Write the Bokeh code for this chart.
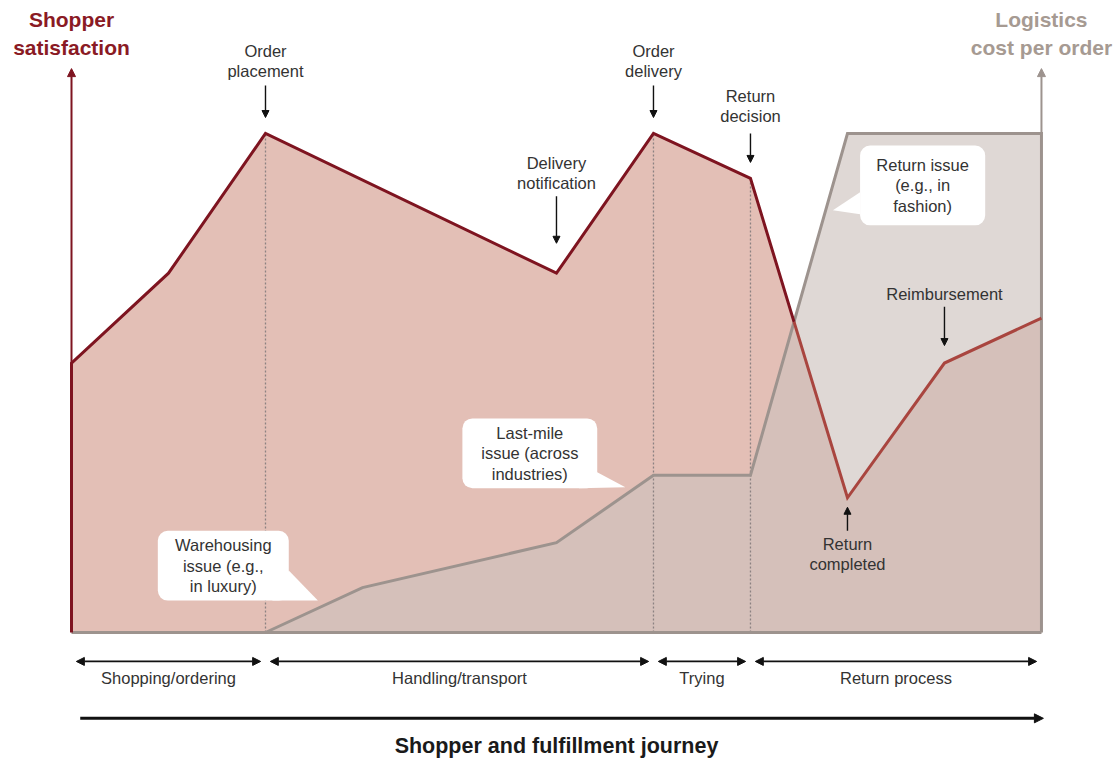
import numpy as np
from bokeh.plotting import figure
from bokeh.models import Range1d, Arrow, NormalHead, BoxAnnotation, ColumnDataSource
from bokeh.core.properties import value
from bokeh.embed import file_html
from bokeh.resources import INLINE

# Steps along the shopper and fulfillment journey (x) and relative levels (y, 0-100)
sat_x = [0, 1, 2, 5, 6, 7, 8, 9, 10]
sat_y = [54, 72, 100, 72, 100, 91, 27, 54, 63]

cost_x = [2, 3, 5, 6, 7, 8, 10]
cost_y = [0, 9, 18, 31.5, 31.5, 100, 100]

phase_names = ["Shopping/ordering", "Handling/transport", "Trying", "Return process"]
phase_start = [0, 2, 6, 7]
phase_end = [2, 6, 7, 10]

milestones = ["Order\nplacement", "Delivery\nnotification", "Order\ndelivery",
              "Return\ndecision", "Return\ncompleted", "Reimbursement"]
milestone_x = [2, 5, 6, 7, 8, 9]

callouts = ["Warehousing\nissue (e.g.,\nin luxury)",
            "Last-mile\nissue (across\nindustries)",
            "Return issue\n(e.g., in\nfashion)"]

FONT = "Liberation Sans"
DARK_RED = "#7E1420"
LIGHT_RED = "#A9453F"
PINK = "#E3BFB6"
GREY_LINE = "#9D938E"
GREY_FILL = "#CDC2BC"
TEXT = "#333333"
INK = "#111111"

p = figure(width=1114, height=758, output_backend="svg", toolbar_location=None,
           x_axis_type=None, y_axis_type=None, min_border=0,
           x_range=Range1d(-0.732, 10.753), y_range=Range1d(-25.25, 126.65))
p.grid.visible = False
p.outline_line_color = None
p.background_fill_color = "white"
p.border_fill_color = "white"

# Shopper satisfaction area
p.varea(x=sat_x, y1=0, y2=sat_y, fill_color=PINK)

# Logistics cost area, translucent so the overlap shows through
p.varea(x=cost_x, y1=0, y2=cost_y, fill_color=GREY_FILL, fill_alpha=0.63)

# Phase separators
for xv, top in [(2, 100), (6, 100), (7, 91)]:
    p.line([xv, xv], [0, top], line_color="#8C8282", line_width=1.3, line_dash="2 2")

# Baseline
p.line([0, 10], [0, 0], line_color=GREY_LINE, line_width=3)

# Logistics cost line, closing down the right edge
p.line(cost_x + [10], cost_y + [0], line_color=GREY_LINE, line_width=3, line_join="miter")

# Where satisfaction drops below the cost curve
xs_all = np.array(sorted(set(sat_x) | set(cost_x)), dtype=float)
diff = np.interp(xs_all, sat_x, sat_y) - np.interp(xs_all, cost_x, cost_y, left=0)
k = int(np.where((diff[:-1] > 0) & (diff[1:] <= 0))[0][-1])
t = diff[k] / (diff[k] - diff[k + 1])
x_cross = xs_all[k] + t * (xs_all[k + 1] - xs_all[k])
y_cross = float(np.interp(x_cross, sat_x, sat_y))

sx = np.array(sat_x, dtype=float)
sy = np.array(sat_y, dtype=float)
above = sx < x_cross
p.line([0] + list(sx[above]) + [x_cross], [0] + list(sy[above]) + [y_cross],
       line_color=DARK_RED, line_width=3, line_join="miter")
p.line([x_cross] + list(sx[~above]), [y_cross] + list(sy[~above]),
       line_color=LIGHT_RED, line_width=3, line_join="miter")

# Axis arrows
p.add_layout(Arrow(end=NormalHead(size=8, fill_color=DARK_RED, line_color=DARK_RED),
                   x_start=0, y_start=54, x_end=0, y_end=113,
                   line_color=DARK_RED, line_width=2))
p.add_layout(Arrow(end=NormalHead(size=8, fill_color=GREY_LINE, line_color=GREY_LINE),
                   x_start=10, y_start=100, x_end=10, y_end=113,
                   line_color=GREY_LINE, line_width=2))

# Axis titles
p.text(x=[0], y=[120], text=["Shopper\nsatisfaction"], text_font=value(FONT),
       text_font_style="bold", text_font_size="21px", text_color="#8A1A24",
       text_align="center", text_baseline="middle", text_line_height=1.2)
p.text(x=[10], y=[120], text=["Logistics\ncost per order"], text_font=value(FONT),
       text_font_style="bold", text_font_size="21px", text_color="#A69A92",
       text_align="center", text_baseline="middle", text_line_height=1.2)

# Milestone labels and pointer arrows
ms_text_y = [114.6, 92, 114.6, 105.5, 15.7, 67.9]
ms_arrow_from = [109.6, 87.4, 109.6, 100, 20.4, 65.3]
ms_arrow_to = [103.2, 78, 103.2, 94.2, 25.1, 57.5]
p.text(x=milestone_x, y=ms_text_y, text=milestones, text_font=value(FONT),
       text_font_size="16.5px", text_color=TEXT, text_align="center",
       text_baseline="middle", text_line_height=1.12)
ms_src = ColumnDataSource(dict(x=milestone_x, y0=ms_arrow_from, y1=ms_arrow_to))
p.add_layout(Arrow(end=NormalHead(size=7, fill_color=INK, line_color=INK),
                   source=ms_src, x_start="x", y_start="y0", x_end="x", y_end="y1",
                   line_color=INK, line_width=1.4))

# Speech-bubble callouts
box_l = [0.89, 4.03, 8.13]
box_r = [2.24, 5.42, 9.42]
box_b = [6.4, 28.9, 81.6]
box_t = [20.4, 42.9, 97.6]
tail_xs = [[2.24, 2.07, 2.54], [5.23, 5.42, 5.71], [8.13, 8.13, 7.85]]
tail_ys = [[12.4, 6.4, 6.4], [28.9, 32.1, 29.1], [88.2, 83.8, 84.6]]
p.patches(tail_xs, tail_ys, fill_color="white", line_color=None)
for l, r, b, tp in zip(box_l, box_r, box_b, box_t):
    p.add_layout(BoxAnnotation(left=l, right=r, bottom=b, top=tp, fill_color="white",
                               fill_alpha=1, line_color=None, border_radius=10))
p.text(x=[(l + r) / 2 for l, r in zip(box_l, box_r)],
       y=[(b + tp) / 2 for b, tp in zip(box_b, box_t)],
       text=callouts, text_font=value(FONT), text_font_size="16.5px", text_color=TEXT,
       text_align="center", text_baseline="middle", text_line_height=1.12, level="overlay")

# Phase spans below the chart
gap = 0.05
ph_src = ColumnDataSource(dict(x0=[s + gap for s in phase_start],
                               x1=[e - gap for e in phase_end],
                               y=[-5.8] * len(phase_names)))
p.add_layout(Arrow(start=NormalHead(size=8, fill_color=INK, line_color=INK),
                   end=NormalHead(size=8, fill_color=INK, line_color=INK),
                   source=ph_src, x_start="x0", y_start="y", x_end="x1", y_end="y",
                   line_color=INK, line_width=1.8))
p.text(x=[(s + e) / 2 for s, e in zip(phase_start, phase_end)], y=[-9.2] * 4,
       text=phase_names, text_font=value(FONT), text_font_size="16.5px",
       text_color=TEXT, text_align="center", text_baseline="middle")

# Overall journey arrow and title
p.add_layout(Arrow(end=NormalHead(size=9, fill_color=INK, line_color=INK),
                   x_start=0.09, y_start=-17.2, x_end=10.02, y_end=-17.2,
                   line_color=INK, line_width=3))
p.text(x=[5], y=[-22.8], text=["Shopper and fulfillment journey"], text_font=value(FONT),
       text_font_style="bold", text_font_size="21.5px", text_color="#1A1A1A",
       text_align="center", text_baseline="middle")

open("out.html", "w").write(file_html(p, INLINE))
